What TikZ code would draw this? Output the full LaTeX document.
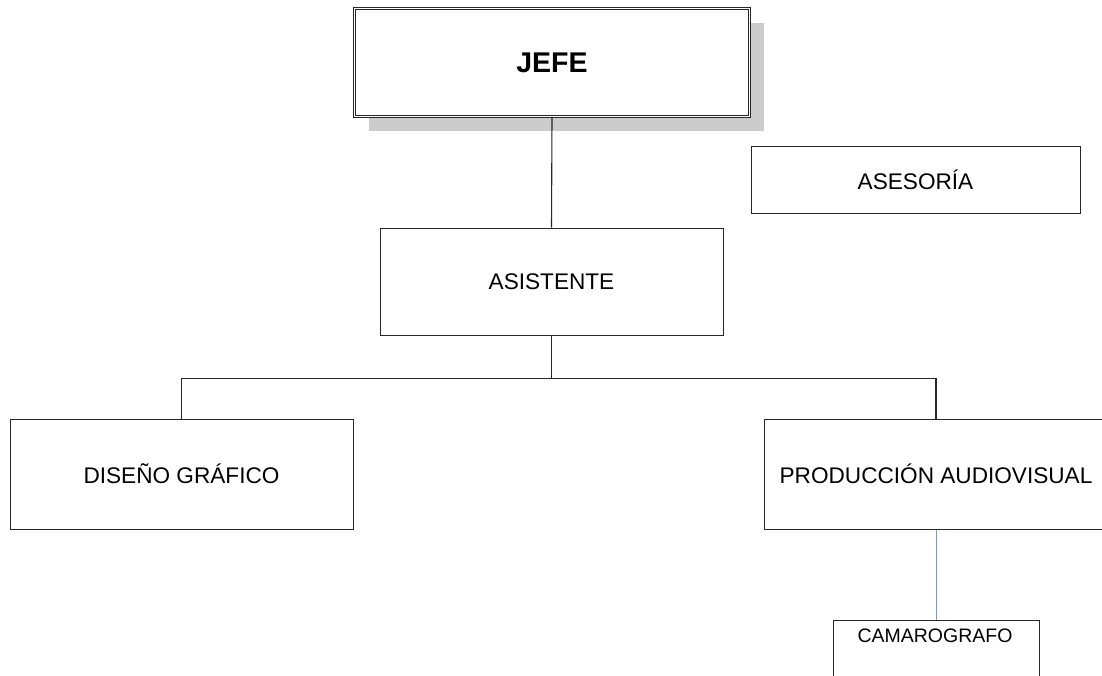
\documentclass[tikz,border=0pt]{standalone}
\usepackage{fontspec}
\setmainfont{Liberation Sans}
\usetikzlibrary{shadows,calc}
\definecolor{shadowgray}{HTML}{CCCCCC}
\definecolor{linkblue}{HTML}{6F9BD8}
\tikzset{
  unitbox/.style={draw=black!85, line width=1pt, rectangle, fill=white, inner sep=0pt,
    font=\fontsize{22.6}{26}\selectfont},
  headbox/.style={unitbox, double=white, double distance=1.6pt, line width=0.9pt,
    font=\fontsize{28.5}{32}\selectfont\bfseries,
    drop shadow={shadow xshift=14pt, shadow yshift=-14pt, fill=shadowgray, opacity=1}},
  link/.style={draw=black!85, line width=1.1pt},
  bluelink/.style={draw=linkblue, line width=1pt}
}
\begin{document}
\begin{tikzpicture}[x=1pt,y=-1pt]
  \clip (0,0) rectangle (1102,675);
  \fill[white] (0,0) rectangle (1102,675);

  % head of the unit
  \node[headbox, minimum width=395pt, minimum height=108pt] (jefe) at (552,62.5) {JEFE};

  % staff and support boxes
  \node[unitbox, minimum width=329pt, minimum height=67pt] (asesoria) at (915.5,179.5) {ASESORÍA};
  \node[unitbox, minimum width=343pt, minimum height=107pt] (asistente) at (551.5,281.5) {ASISTENTE};

  % departments
  \node[unitbox, minimum width=343pt, minimum height=110pt] (diseno) at (181.5,474) {DISEÑO GRÁFICO};
  \node[unitbox, minimum width=344pt, minimum height=110pt] (produccion) at (936,474) {PRODUCCIÓN AUDIOVISUAL};

  % camera operator, label at the top of its box
  \node[unitbox, minimum width=206pt, minimum height=70pt, anchor=north] (camara) at (936,620) {};
  \node[font=\fontsize{19.5}{22}\selectfont, inner sep=0pt] (camaratext) at (935,636) {CAMAROGRAFO};

  % connectors
  \draw[link] (jefe.south) -- (asistente.north);
  \draw[link] (asistente.south) -- ++(0,43) coordinate (bar) -| (diseno.north);
  \draw[link] (bar) -| (produccion.north);
  \draw[bluelink] (produccion.south) -- (camara.north);
\end{tikzpicture}
\end{document}
